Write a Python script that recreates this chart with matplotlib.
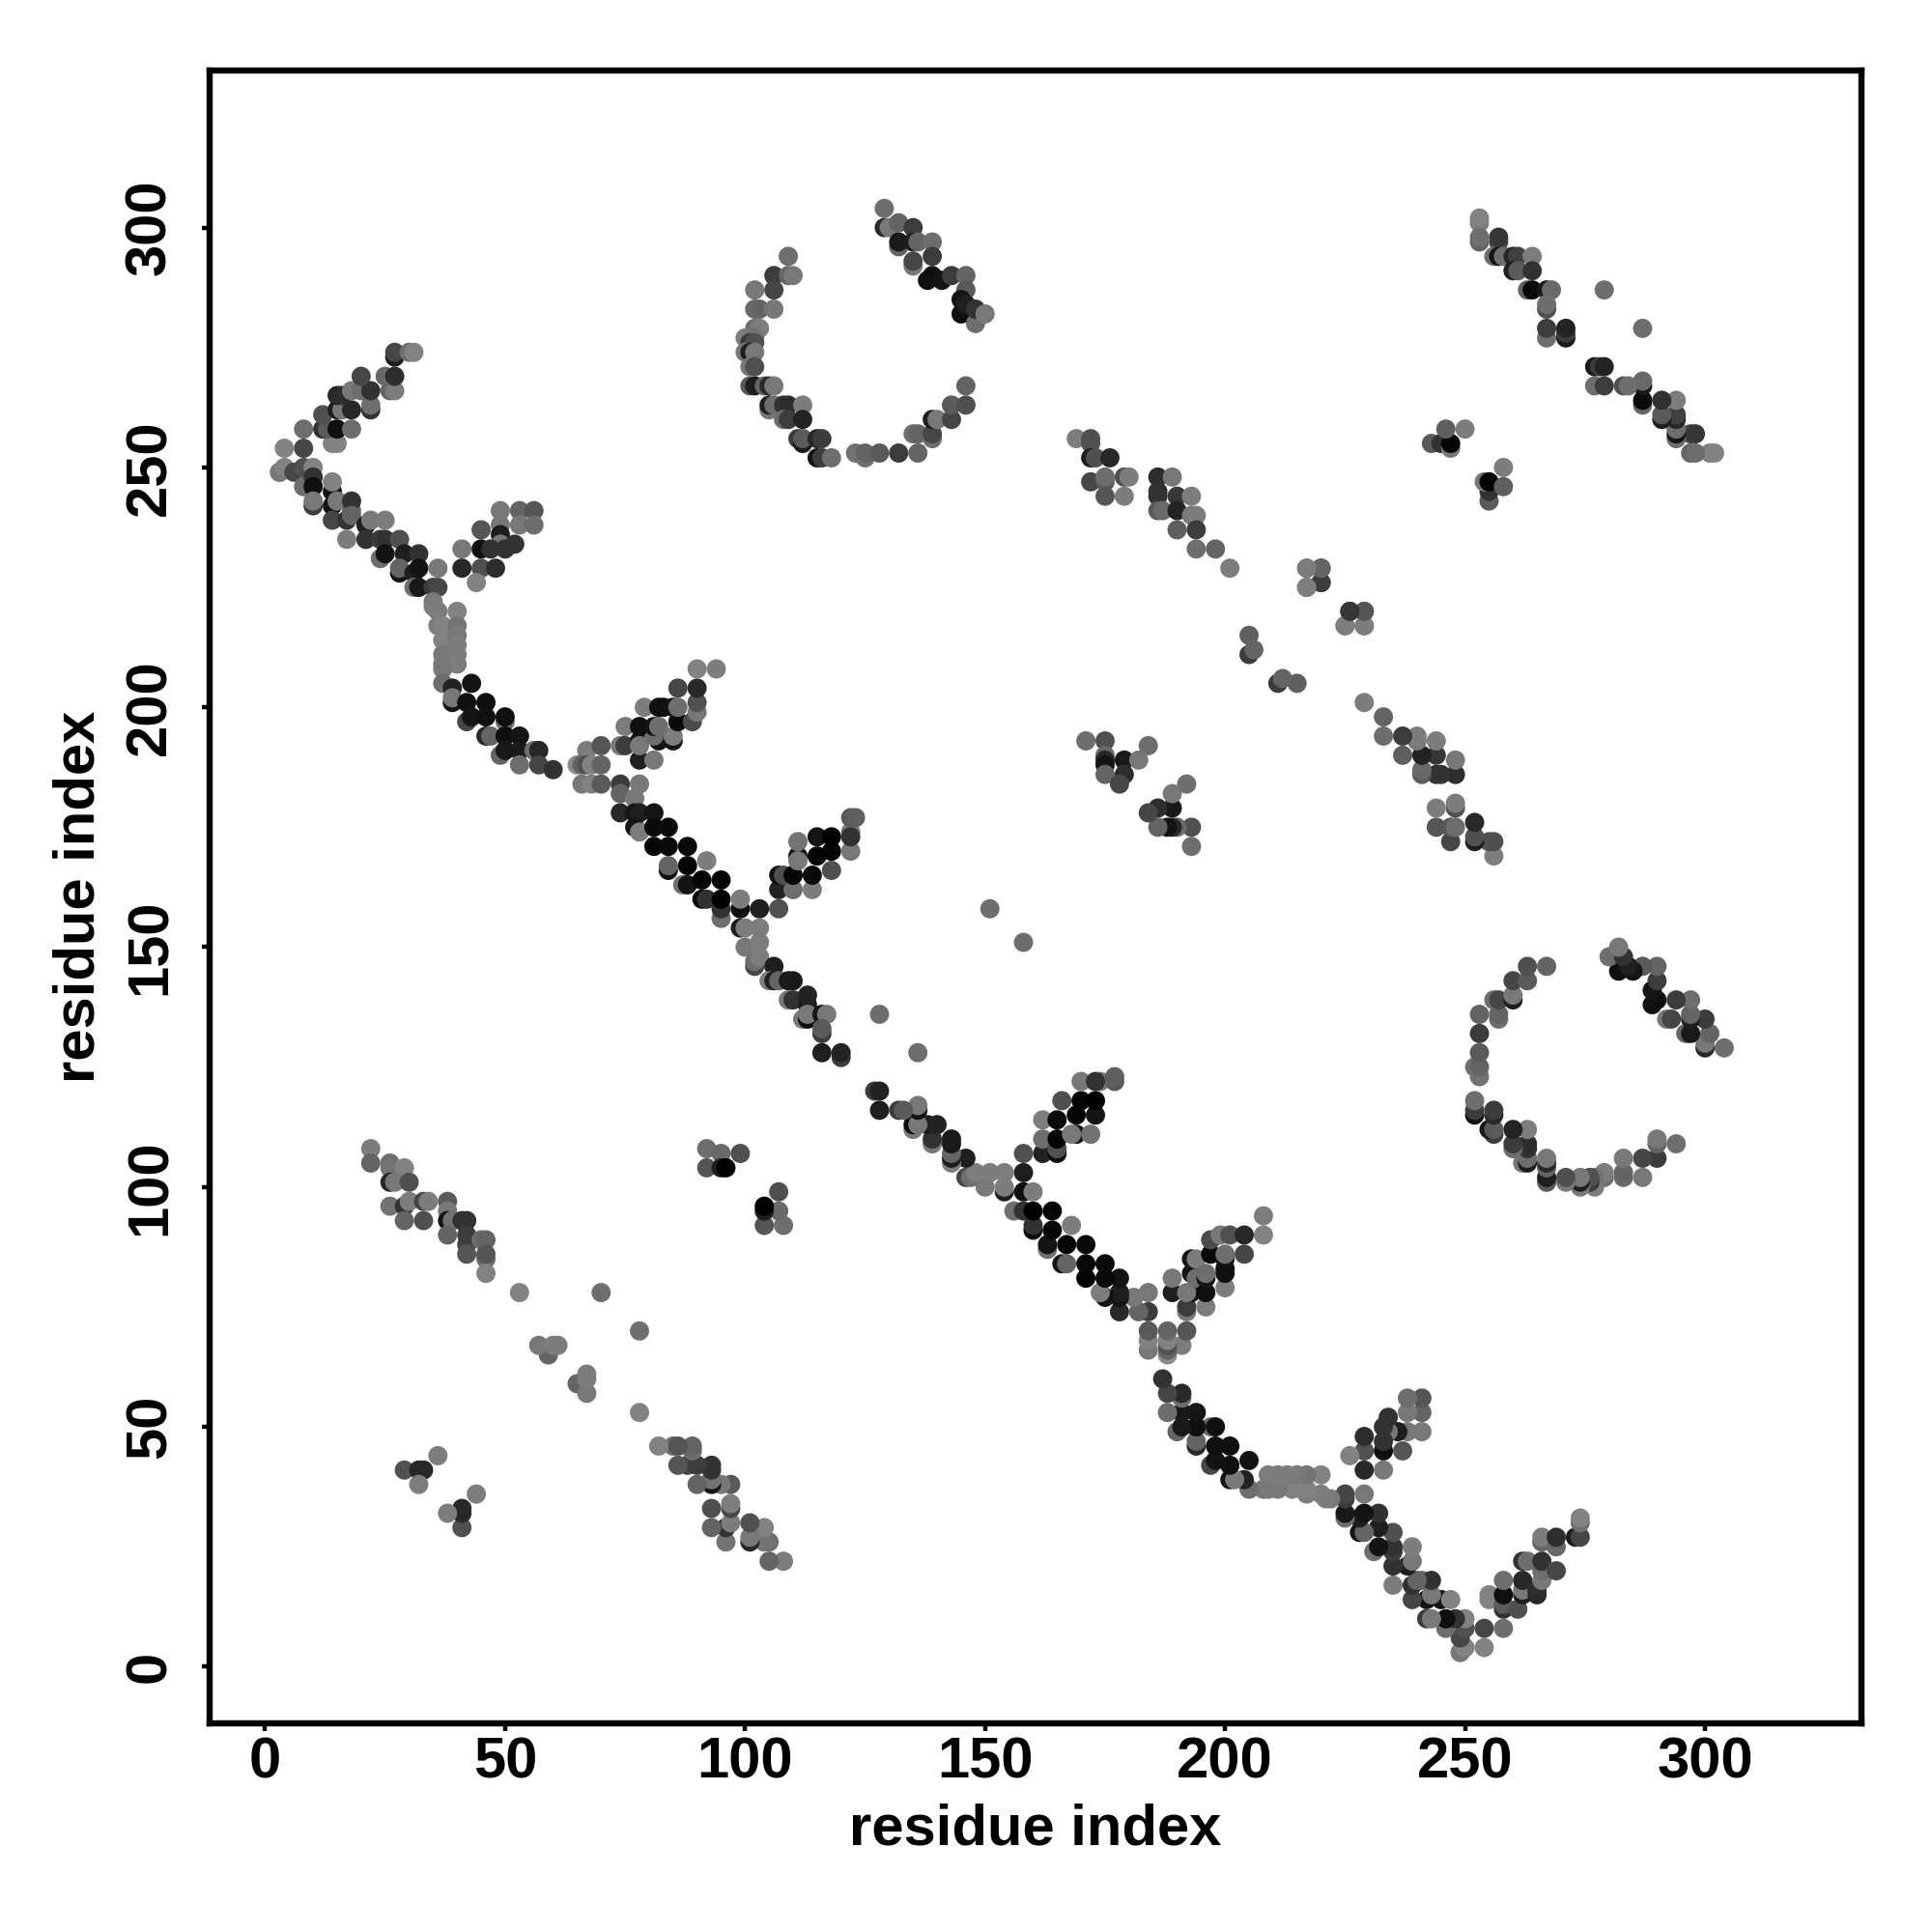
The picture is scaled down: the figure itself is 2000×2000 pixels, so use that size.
import matplotlib
matplotlib.use('Agg')
import matplotlib.pyplot as plt
import numpy as np

# contacts as (i, j, grey level 0-255), only i < j, the map is symmetric
band_a = [
    (3, 249, 110), (3, 249, 120), (4, 250, 130), (6, 249, 70), (8, 250, 80), (10, 250, 130),
    (4, 254, 130), (8, 254, 70), (14, 255, 130), (15, 255, 130),
    (8, 258, 110), (12, 258, 50), (13, 258, 90), (15, 258, 15), (18, 258, 110),
    (12, 261, 80), (15, 262, 30), (16, 262, 120), (18, 262, 40), (22, 262, 50), (22, 263, 110),
    (15, 265, 40), (16, 265, 45), (18, 266, 120), (20, 266, 110), (22, 266, 50),
    (26, 266, 100), (27, 266, 125), (20, 269, 70), (25, 269, 105), (27, 269, 45),
    (27, 273, 30), (27, 274, 70), (30, 274, 110), (31, 274, 130),
    (8, 246, 110), (10, 248, 50), (10, 246, 15), (10, 242, 60), (10, 243, 120),
    (14, 245, 20), (14, 247, 130), (14, 242, 20), (15, 243, 120), (18, 241, 110), (18, 243, 50),
    (14, 239, 70), (17, 239, 50), (18, 240, 100), (21, 238, 30), (22, 239, 120), (25, 239, 125),
    (17, 235, 125), (21, 235, 50), (24, 235, 60), (25, 235, 50), (28, 235, 80),
    (24, 231, 110), (25, 232, 20), (29, 232, 30), (32, 232, 50), (28, 228, 20), (28, 229, 100),
    (31, 228, 30), (32, 229, 20), (36, 229, 120), (31, 225, 110), (32, 225, 25), (35, 225, 60), (36, 225, 70),
]
band_b = [
    (35, 222, 120), (35, 221, 125), (36, 220, 125), (40, 220, 130), (36, 217, 125), (37, 217, 130),
    (40, 217, 115), (37, 214, 130), (40, 215, 120), (40, 213, 125), (37, 211, 120), (40, 211, 125),
    (37, 209, 120), (40, 209, 125), (37, 208, 120),
    (37, 205, 110), (39, 204, 35), (43, 205, 20), (39, 201, 20), (39, 202, 120), (42, 201, 15), (46, 201, 15),
    (42, 197, 70), (43, 198, 20), (46, 198, 15), (50, 197, 110), (50, 198, 15),
    (46, 194, 40), (47, 194, 100), (50, 194, 15), (53, 194, 20),
    (49, 190, 100), (50, 191, 25), (53, 191, 25), (56, 191, 110), (57, 191, 40),
    (53, 188, 110), (57, 188, 70), (60, 187, 50),
]
band_c = [
    (74, 184, 60), (74, 182, 100), (78, 184, 120), (77, 181, 120),
    (74, 178, 40), (77, 178, 20), (78, 178, 30), (81, 178, 20),
    (77, 175, 20), (78, 174, 125), (81, 175, 10), (84, 175, 10),
    (81, 171, 5), (84, 171, 10), (88, 171, 10), (84, 166, 20), (84, 167, 100), (88, 167, 5), (92, 168, 125),
    (87, 163, 110), (88, 163, 20), (91, 164, 5), (95, 164, 5),
    (95, 156, 110), (95, 158, 50), (91, 160, 10), (92, 160, 50), (95, 160, 0),
    (99, 158, 15), (99, 160, 125), (103, 158, 30), (107, 158, 80),
    (99, 154, 30), (100, 154, 125), (103, 154, 125), (100, 150, 120), (103, 151, 125),
    (102, 146, 70), (102, 147, 110), (103, 148, 125), (106, 146, 30),
    (105, 143, 125), (106, 143, 30), (107, 143, 100), (109, 143, 25), (110, 143, 25),
    (109, 139, 120), (110, 139, 50), (113, 138, 30), (113, 140, 35),
    (112, 135, 120), (113, 135, 15), (113, 136, 120), (116, 136, 20), (117, 136, 120),
    (116, 132, 60), (116, 133, 90), (116, 128, 30), (120, 127, 60), (120, 128, 35),
    (128, 136, 110), (151, 158, 110),
]
arm_a = [
    (49, 241, 120), (53, 241, 100), (56, 241, 85), (49, 238, 120), (53, 238, 120), (56, 238, 110),
    (45, 237, 85), (49, 236, 30), (49, 234, 120), (52, 234, 50), (45, 233, 15), (47, 233, 50), (50, 233, 50),
    (41, 233, 120), (41, 229, 40), (45, 229, 80), (48, 229, 45), (44, 226, 130),
]
arm_b = [
    (67, 191, 125), (70, 192, 85), (65, 188, 140), (66, 188, 100), (67, 188, 80), (68, 188, 130), (70, 188, 100),
    (66, 184, 120), (68, 184, 130), (70, 184, 90),
    (74, 192, 120), (75, 192, 60), (78, 189, 30), (81, 189, 120),
    (78, 193, 20), (78, 192, 120), (82, 193, 20), (81, 194, 110), (85, 193, 20), (85, 194, 125),
    (75, 196, 125), (78, 196, 15), (81, 196, 20), (82, 196, 110), (86, 197, 10), (89, 197, 75),
    (79, 200, 125), (82, 200, 15), (83, 200, 15), (85, 200, 20), (86, 200, 110), (90, 199, 120), (90, 201, 80),
    (86, 204, 70), (90, 204, 40), (90, 208, 130), (94, 208, 125),
]
arm_c = [
    (107, 162, 35), (110, 162, 110), (114, 162, 125),
    (107, 165, 15), (108, 165, 80), (110, 165, 5), (114, 165, 10), (118, 166, 80),
    (111, 169, 20), (111, 168, 120), (115, 169, 5), (118, 170, 5),
    (111, 172, 115), (115, 173, 20), (118, 173, 0),
    (122, 170, 120), (122, 174, 120), (122, 173, 50), (122, 177, 90), (123, 177, 95),
]
ring = [
    (129, 304, 110), (129, 300, 40), (130, 300, 120), (132, 301, 100), (135, 300, 60),
    (132, 296, 100), (132, 297, 25), (135, 297, 30), (136, 297, 100), (139, 297, 110),
    (135, 292, 120), (135, 293, 70), (139, 294, 60), (138, 289, 15), (139, 290, 15), (141, 289, 20),
    (143, 290, 60), (146, 290, 100), (146, 287, 90), (145, 285, 20), (145, 282, 15), (146, 284, 30),
    (148, 280, 110), (148, 283, 50), (150, 282, 120),
    (109, 294, 110), (106, 290, 60), (109, 290, 100), (110, 290, 120), (106, 287, 70), (102, 287, 120),
    (102, 283, 105), (103, 283, 100), (106, 283, 120), (102, 279, 110), (103, 279, 125),
    (100, 277, 125), (102, 277, 115), (101, 276, 60), (102, 276, 80), (100, 274, 120), (101, 274, 30), (102, 274, 120),
    (101, 271, 120), (102, 271, 80), (101, 267, 90), (102, 267, 30), (104, 267, 100), (105, 267, 40), (106, 267, 120),
    (105, 262, 120), (105, 263, 30), (106, 263, 110), (108, 263, 50), (109, 263, 45), (112, 263, 125),
    (108, 260, 110), (109, 260, 60), (112, 260, 35),
    (111, 256, 60), (112, 255, 25), (112, 256, 90), (115, 256, 40), (116, 256, 60),
    (115, 252, 20), (116, 252, 60), (118, 252, 110),
    (125, 252, 110), (123, 253, 115), (125, 253, 100), (128, 253, 90), (132, 253, 60), (136, 253, 100),
    (135, 257, 110), (136, 257, 100), (139, 256, 110), (139, 257, 70),
    (139, 260, 30), (140, 260, 120), (143, 260, 70), (143, 263, 90), (146, 263, 80), (146, 267, 100),
]
far_band_a = [
    (169, 256, 125), (172, 255, 85), (172, 256, 80), (172, 252, 30), (173, 252, 80), (176, 252, 40),
    (172, 247, 70), (175, 247, 90), (175, 248, 110), (179, 248, 80), (180, 248, 125), (175, 244, 85), (179, 244, 125),
    (186, 248, 45), (189, 248, 120), (186, 244, 50), (186, 245, 50), (190, 244, 55), (193, 244, 125),
    (186, 241, 90), (187, 241, 105), (190, 241, 35), (193, 240, 120), (194, 240, 125),
    (190, 237, 95), (194, 237, 60), (194, 233, 110), (198, 233, 100), (201, 229, 125),
    (217, 225, 125), (217, 229, 125), (220, 229, 85), (220, 226, 55),
    (226, 220, 60), (229, 220, 100), (225, 217, 125), (229, 217, 125),
    (205, 215, 95), (205, 211, 60), (206, 212, 100),
]
far_band_b = [
    (253, 301, 125), (253, 302, 130), (253, 297, 100), (253, 298, 110), (257, 297, 70), (257, 298, 55),
    (256, 294, 110), (257, 294, 20), (258, 294, 110), (260, 294, 40), (261, 294, 65), (264, 294, 125),
    (260, 291, 30), (261, 291, 90), (264, 291, 50), (263, 287, 100), (264, 287, 10), (267, 287, 25), (268, 287, 105),
    (267, 283, 80), (267, 284, 110), (267, 277, 110), (267, 279, 60),
    (271, 277, 25), (271, 278, 60), (271, 279, 35), (279, 287, 110),
]
near_band = [
    (22, 108, 125), (22, 105, 100), (26, 105, 110), (26, 104, 115), (29, 104, 130),
    (26, 101, 40), (27, 101, 120), (30, 101, 80), (26, 96, 115), (29, 96, 50), (30, 97, 125), (33, 97, 70), (34, 97, 125),
    (29, 93, 100), (33, 93, 80), (38, 97, 90), (38, 95, 120), (38, 93, 20), (39, 93, 115), (41, 93, 50), (42, 93, 50),
    (38, 90, 100), (42, 88, 70), (42, 90, 60), (42, 86, 85), (45, 89, 110), (46, 89, 100),
    (46, 85, 110), (46, 86, 85), (46, 82, 130), (53, 78, 130), (70, 78, 110),
    (59, 65, 100), (57, 67, 120), (60, 67, 125), (61, 67, 125),
]
clusters = [
    (29, 41, 80), (32, 41, 40), (33, 41, 40), (32, 38, 125), (36, 44, 125),
    (92, 108, 110), (95, 107, 105), (99, 107, 80), (92, 104, 85), (95, 104, 30), (96, 104, 0),
    (171, 193, 110), (175, 193, 80), (184, 192, 110), (175, 190, 105), (175, 189, 40), (175, 188, 20),
    (179, 189, 25), (182, 189, 120), (175, 186, 100), (179, 186, 45), (178, 184, 70),
    (243, 255, 90), (245, 255, 50), (247, 254, 120), (247, 255, 5), (246, 258, 95), (250, 258, 125),
]
x_ticks = [0, 50, 100, 150, 200, 250, 300]
axis_label = 'residue index'

contacts = np.array(band_a + band_b + band_c + arm_a + arm_b + arm_c + ring
                    + far_band_a + far_band_b + near_band + clusters)
res_i = np.r_[contacts[:, 0], contacts[:, 1]]
res_j = np.r_[contacts[:, 1], contacts[:, 0]]
grey = np.r_[contacts[:, 2], contacts[:, 2]] / 255

plt.rcParams['font.family'] = ['Liberation Sans', 'DejaVu Sans']
plt.rcParams['font.weight'] = 'bold'

fig = plt.figure(figsize=(20, 20), dpi=100)
ax = fig.add_axes([216.6 / 2000, 1 - 1784 / 2000, 1710.4 / 2000, 1711.3 / 2000])
ax.scatter(res_i, res_j, s=205, c=np.c_[grey, grey, grey], linewidths=0, zorder=3)

ax.set_xlim(-11.65, 332.6)
ax.set_ylim(-11.8, 332.8)
ax.set_xticks(x_ticks)
ax.set_yticks(x_ticks)
ax.tick_params(axis='both', length=6, width=3.2, labelsize=43, color='k')
ax.tick_params(axis='x', pad=4)
ax.tick_params(axis='y', pad=18)
for t in ax.get_yticklabels():
    t.set_rotation(90)
    t.set_va('center')
for s in ax.spines.values():
    s.set_linewidth(4.6)

ax.set_xlabel(axis_label, fontsize=43, fontweight='bold', va='center')
ax.set_ylabel(axis_label, fontsize=43, fontweight='bold', va='center')
ax.xaxis.set_label_coords(0.5, -0.0645)
ax.yaxis.set_label_coords(-0.0785, 0.5)

fig.savefig('out.png', dpi=100)
